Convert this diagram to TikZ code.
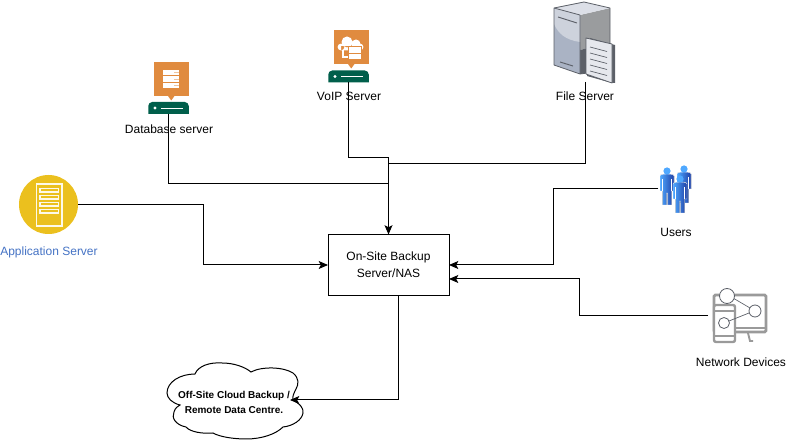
\documentclass[tikz,border=0pt]{standalone}
\usepackage{fontspec}
\setmainfont{Liberation Sans}
\usetikzlibrary{shapes,arrows,arrows.meta}
\usetikzlibrary{positioning}
\definecolor{iconorange}{HTML}{E08B3F}
\definecolor{icongreen}{HTML}{005F4B}
\definecolor{appyellow}{HTML}{EBC01E}
\definecolor{applabel}{HTML}{4472C4}
\definecolor{srvlight}{HTML}{CDD2DC}
\definecolor{srvmid}{HTML}{AAB3C4}
\definecolor{srvdark}{HTML}{9A9C9E}
\definecolor{srvedge}{HTML}{5C6068}
\definecolor{netgrey}{HTML}{9A9A9A}
\definecolor{userlight}{HTML}{4FA8FF}
\definecolor{userdark}{HTML}{1F3FA6}
\tikzstyle{label} = [inner sep=0pt, font=\fontsize{9}{11}\selectfont]
\tikzstyle{conn} = [draw, black, line width=0.75pt]
\tikzstyle{tip} = [-{Stealth[length=7pt,width=6pt,inset=1.6pt]}]
\tikzstyle{box} = [draw, line width=0.75pt, inner sep=0pt, outer sep=0pt, align=center,
    minimum width=90.75pt, minimum height=45.75pt, font=\fontsize{9}{12.5}\selectfont]
\tikzstyle{tag} = [fill=iconorange, inner sep=0pt, outer sep=0pt, minimum size=25.9pt]
\tikzstyle{base} = [inner sep=0pt, outer sep=0pt, minimum width=30.4pt, minimum height=8.6pt]
\tikzstyle{slot} = [fill=white, inner sep=0pt, outer sep=0pt, minimum width=12pt, minimum height=4.2pt]
\tikzset{
  person/.pic={
    \fill[left color=userlight, right color=userdark, draw=white, line width=0.3pt]
      (-7,5) .. controls (-7,3.5) and (-4,3) .. (0,3) .. controls (4,3) and (7,3.5) .. (7,5)
      -- (7,20) -- (4.5,20) -- (4.5,34) -- (0.5,34) -- (0.5,22) -- (-0.5,22)
      -- (-0.5,34) -- (-4.5,34) -- (-4.5,20) -- (-7,20) -- cycle;
    \fill[userlight] (0,0) circle (3.6);
    \draw[white, line width=0.4pt] (-4.5,8) -- (-4.5,20) (4.5,8) -- (4.5,20);
  },
  basebar/.pic={
    \fill[icongreen, rounded corners=3pt] (-20.25,6) -- (-20.25,-6) -- (20.25,-6) [sharp corners] -- (20.25,6) -- cycle;
    \fill[white] (-13.5,0) circle (1.6);
    \draw[white, line width=0.5pt] (-7.5,0) -- (14.5,0);
  }
}
\begin{document}
\begin{tikzpicture}[x=0.75pt, y=-0.75pt]
  \useasboundingbox (0,0) rectangle (786,445);
  % main box
  \node [box] (nas) at (388.5,265) {On-Site Backup\\Server/NAS};
  % database server
  \node [tag] (dbtag) at (171.25,79) {};
  \fill[iconorange] (168,96) -- (174.5,96) -- (171.25,100.5) -- cycle;
  \node [base] (dbbase) at (168.5,108) {};
  \pic at (dbbase) {basebar};
  \node [slot] (dbslot2) at (171.25,79) {};
  \node [slot, above=0.8pt of dbslot2] (dbslot1) {};
  \node [slot, below=0.8pt of dbslot2] (dbslot3) {};
  \foreach \y in {72.5,79,85.5}
    \draw[iconorange!50!white, line width=0.5pt] (174,\y) -- (179,\y);
  \node [label] (dblabel) at (169,129) {Database server};
  % voip server
  \node [tag] (voiptag) at (351.25,47) {};
  \fill[iconorange] (348,64) -- (354.5,64) -- (351.25,68.5) -- cycle;
  \node [base] (voipbase) at (348.5,76.5) {};
  \pic at (voipbase) {basebar};
  \fill[white] (341,47) circle (3.4) (347,42) circle (5.5) (356,44) circle (4.5) (360,47) circle (3.4)
    (341,46) rectangle (360,50.4);
  \draw[white, line width=0.8pt] (343,50) -- (343,57) -- (348,57);
  \node [slot, draw=iconorange, line width=0.5pt, minimum width=10pt, minimum height=5pt] (voipslot1) at (355,50) {};
  \node [slot, draw=iconorange, line width=0.5pt, minimum width=10pt, minimum height=5pt] (voipslot2) at (355,56.5) {};
  \node [label] (voiplabel) at (349,96) {VoIP Server};
  % file server
  \fill[srvdark] (580,15) -- (610,8) -- (610,43) -- (580,50) -- cycle;
  \fill[srvedge] (580,50) -- (610,43) -- (610,70) -- (580,74) -- cycle;
  \fill[srvmid] (554,8) -- (580,15) -- (580,74) -- (554,65) -- cycle;
  \fill[srvlight] (554,8) -- (580,15) -- (580,42) .. controls (565,40) and (558,33) .. (554,24) -- cycle;
  \fill[srvlight!70!white] (554,8) -- (584,2) -- (610,8) -- (580,15) -- cycle;
  \draw[srvedge, line width=0.6pt, line join=round] (554,8) -- (584,2) -- (610,8) -- (610,70) -- (580,74) -- (554,65) -- cycle
    (554,8) -- (580,15) -- (580,74);
  \draw[srvedge, line width=0.7pt] (558,17) -- (577,23) (560,62) -- (573,66);
  \fill[srvedge] (590,38) -- (615,45) -- (615,83) -- (612,83) -- (587,76) -- cycle;
  \draw[srvedge, line width=0.6pt, fill=srvlight!50!white, line join=round] (586,38) -- (612,44) -- (612,83) -- (586,74) -- cycle;
  \foreach \y in {47,53,59,65,71}
    \draw[srvedge, line width=0.5pt] (590,\y) -- (607,\y+4.5);
  \coordinate (fileout) at (585,82);
  \node [label] (filelabel) at (585,96) {File Server};
  % application server
  \node [circle, fill=appyellow, inner sep=0pt, outer sep=0pt, minimum size=44.25pt] (appicon) at (48.5,204.5) {};
  \draw[white!90!appyellow, line width=0.9pt] (36.5,184) rectangle (62,226);
  \foreach \y in {190,197,204,211}
    \draw[white!90!appyellow, line width=0.9pt] (40,\y-1.5) rectangle (58.5,\y+2);
  \node [label, text=applabel] (applabel) at (49,252) {Application Server};
  % users
  \node [inner sep=0pt, outer sep=0pt, minimum width=22pt, minimum height=36pt] (usersicon) at (673,189) {};
  \pic at (684,169) {person};
  \pic at (667,171) {person};
  \pic at (680,179) {person};
  \node [label] (userslabel) at (676,232) {Users};
  % network devices
  \node [inner sep=0pt, outer sep=0pt, minimum width=40.5pt, minimum height=36pt] (neticon) at (735,316) {};
  \draw[netgrey, line width=2.2pt, rounded corners=1pt] (714,295) rectangle (766,332);
  \draw[netgrey, line width=1.2pt] (736,328) -- (766,328);
  \draw[netgrey, line width=1.4pt] (748,333) -- (750,341) -- (753,341);
  \draw[netgrey, line width=1.8pt, fill=white, rounded corners=1.5pt] (714,305) rectangle (735,342);
  \draw[netgrey, line width=1.2pt] (714,311) -- (735,311) (714,336) -- (735,336);
  \draw[srvedge, line width=0.5pt] (733,298) -- (750,308) (729,321) -- (749,313);
  \foreach \cx/\cy/\r in {727/296/7.5, 755/311/6, 724/323/5.5}
    \draw[srvedge, line width=0.6pt, fill=white] (\cx,\cy) circle (\r);
  \node [label] (netlabel) at (741,362) {Network Devices};
  % cloud
  \draw[black, line width=0.75pt, fill=white] (167,393)
    .. controls (167,382) and (180,374) .. (195,374)
    .. controls (198,366) and (210,362) .. (222,363)
    .. controls (234,363) and (245,367) .. (251,372)
    .. controls (262,366) and (284,367) .. (293,373)
    .. controls (299,378) and (299,384) .. (296,389)
    .. controls (294,393) and (292,397) .. (293,400)
    .. controls (299,403) and (304,408) .. (303,413)
    .. controls (302,420) and (293,426) .. (283,427)
    .. controls (276,434) and (262,439) .. (246,439)
    .. controls (234,439) and (220,437) .. (213,433)
    .. controls (203,434) and (190,432) .. (186,427)
    .. controls (176,425) and (171,418) .. (174,412)
    .. controls (175,408) and (178,406) .. (180,405)
    .. controls (172,403) and (167,398) .. (167,393) -- cycle;
  \node [inner sep=0pt, align=center, font=\fontsize{7.5}{11.2}\selectfont\bfseries] (cloud) at (234,402)
    {Off-Site Cloud Backup /\\Remote Data Centre.};
  % connectors
  \coordinate (dbjoin) at (388.5,184);
  \coordinate (voipjoin) at (388.5,158);
  \coordinate (filejoin) at (388.5,164);
  \coordinate (appjoin) at (203.5,265);
  \coordinate (usersjoin) at (553.5,265);
  \coordinate (netport) at (449,279);
  \coordinate (netjoin) at (579,279);
  \coordinate (nasout) at (398.5,288);
  \coordinate (cloudport) at (290,400);
  \draw [conn] (dbbase.south) |- (dbjoin);
  \draw [conn, tip] (voipbase.south) |- (voipjoin) -- (nas.north);
  \draw [conn] (fileout) |- (filejoin);
  \draw [conn, tip] (appicon.east) -| (appjoin) -- (nas.west);
  \draw [conn, tip] (usersicon.west) -| (usersjoin) -- (nas.east);
  \draw [conn, tip] (neticon.west) -| (netjoin) -- (netport);
  \draw [conn, tip] (nas.south -| nasout) |- (cloudport);
\end{tikzpicture}
\end{document}
